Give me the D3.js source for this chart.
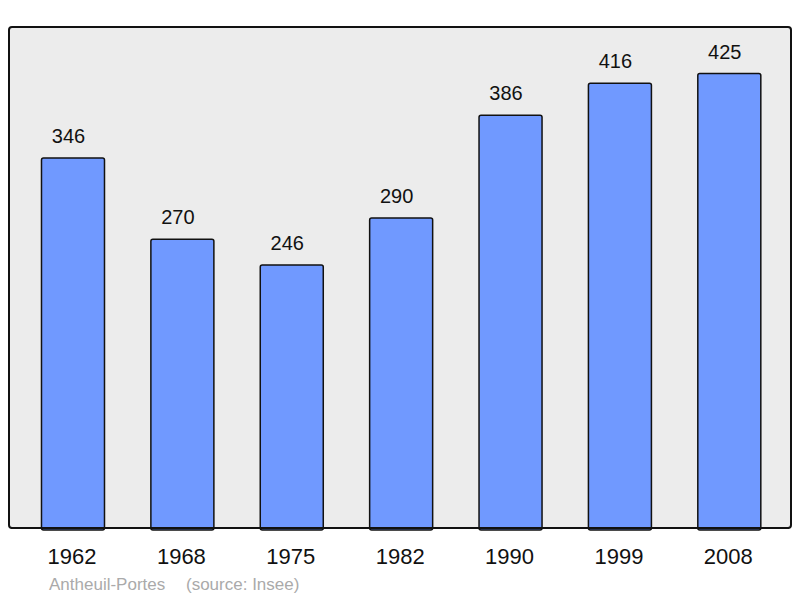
<!DOCTYPE html>
<html>
<head>
<meta charset="utf-8">
<script src="https://cdn.jsdelivr.net/npm/d3@7"></script>
<style>
  body { margin: 0; background: #fff; }
  svg { display: block; font-family: "Liberation Sans", Arial, sans-serif; }
</style>
</head>
<body>
<div class="chart"></div>
<script>
// Data
const years = ['1962', '1968', '1975', '1982', '1990', '1999', '2008'];
const population = [346, 270, 246, 290, 386, 416, 425];
const place = 'Antheuil-Portes';
const source = '(source: Insee)';

const W = 800, H = 598;
const frame = { left: 9, top: 27, right: 791, bottom: 528 };

const svg = d3.select('.chart').append('svg')
    .attr('width', W)
    .attr('height', H);

// plot background
svg.append('rect')
    .attr('x', frame.left)
    .attr('y', frame.top)
    .attr('width', frame.right - frame.left)
    .attr('height', frame.bottom - frame.top)
    .attr('rx', 3)
    .attr('fill', '#ececec')
    .attr('stroke', '#111')
    .attr('stroke-width', 2);

const x = d3.scaleBand()
    .domain(years)
    .range([18.3, 784])
    .paddingInner(0.424)
    .paddingOuter(0.212);

const y = d3.scaleLinear()
    .domain([0, 468.5])
    .range([frame.bottom, frame.top]);

const rows = years.map((yr, i) => ({ year: yr, value: population[i] }));

svg.append('g').selectAll('rect')
    .data(rows)
    .enter()
    .append('rect')
    .attr('x', d => x(d.year))
    .attr('y', d => y(d.value))
    .attr('width', x.bandwidth())
    .attr('height', d => frame.bottom - y(d.value) + 2)
    .attr('rx', 2)
    .attr('fill', '#7099ff')
    .attr('stroke', '#111')
    .attr('stroke-width', 1.5);

// redraw bottom frame line over the bars
svg.append('line')
    .attr('x1', frame.left + 2)
    .attr('x2', frame.right - 2)
    .attr('y1', frame.bottom)
    .attr('y2', frame.bottom)
    .attr('stroke', '#111')
    .attr('stroke-width', 2);

// value labels
svg.append('g').selectAll('text')
    .data(rows)
    .enter()
    .append('text')
    .attr('x', d => x(d.year) + x.bandwidth() / 2 - 4.5)
    .attr('y', d => y(d.value) - 15)
    .attr('text-anchor', 'middle')
    .attr('font-size', 20)
    .attr('fill', '#111')
    .text(d => d.value);

// year labels
const xAxis = d3.axisBottom(x).tickSize(0).tickPadding(0);
const axisG = svg.append('g')
    .attr('transform', `translate(0, ${frame.bottom})`)
    .call(xAxis);
axisG.select('.domain').remove();
axisG.selectAll('text')
    .attr('dy', null)
    .attr('y', 36)
    .attr('x', -1)
    .attr('font-size', 22)
    .attr('font-family', '"Liberation Sans", Arial, sans-serif')
    .attr('fill', '#111');

// footer
svg.append('text')
    .attr('x', 49)
    .attr('y', 590)
    .attr('font-size', 17)
    .attr('fill', '#aaa')
    .text(place);
svg.append('text')
    .attr('x', 186)
    .attr('y', 590)
    .attr('font-size', 17)
    .attr('fill', '#aaa')
    .text(source);
</script>
</body>
</html>
